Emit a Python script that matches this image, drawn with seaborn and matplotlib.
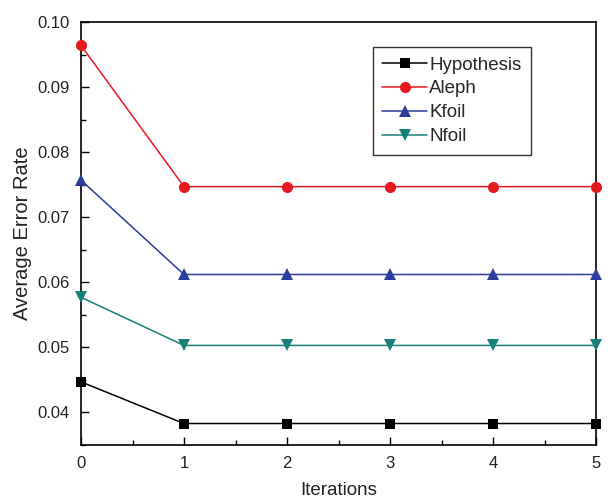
import matplotlib
matplotlib.use("Agg")
import matplotlib.pyplot as plt
import seaborn as sns
import pandas as pd
from matplotlib.ticker import MultipleLocator

iterations = [0, 1, 2, 3, 4, 5]
hypothesis = [0.0447, 0.0383, 0.0383, 0.0383, 0.0383, 0.0383]
aleph = [0.0964, 0.0747, 0.0747, 0.0747, 0.0747, 0.0747]
kfoil = [0.0757, 0.0612, 0.0612, 0.0612, 0.0612, 0.0612]
nfoil = [0.0577, 0.0503, 0.0503, 0.0503, 0.0503, 0.0503]
series_names = ["Hypothesis", "Aleph", "Kfoil", "Nfoil"]
ytick_values = [0.04, 0.05, 0.06, 0.07, 0.08, 0.09, 0.10]
ytick_labels = ["0.04", "0.05", "0.06", "0.07", "0.08", "0.09", "0.10"]

df = pd.DataFrame({"Iterations": iterations * 4,
                   "value": hypothesis + aleph + kfoil + nfoil,
                   "series": sum([[n] * len(iterations) for n in series_names], [])})

sns.set_style("white")
plt.rcParams["font.family"] = ["Liberation Sans", "DejaVu Sans"]

fig = plt.figure(figsize=(6.08, 4.99), dpi=100)
ax = fig.add_axes([81/608, 1 - 445/499, (596-81)/608, (445-22)/499])

colors = {"Hypothesis": "#000000", "Aleph": "#e5191e", "Kfoil": "#2c3e9c", "Nfoil": "#17807a"}
markers = {"Hypothesis": "s", "Aleph": "o", "Kfoil": "^", "Nfoil": "v"}
sizes = {"Hypothesis": 7, "Aleph": 8, "Kfoil": 8, "Nfoil": 8}

for name in series_names:
    sub = df[df["series"] == name]
    sns.lineplot(data=sub, x="Iterations", y="value", ax=ax, color=colors[name],
                 marker=markers[name], markersize=sizes[name], markeredgewidth=0,
                 linewidth=1.1, label=name, clip_on=False, zorder=3)

ax.set_xlim(0, 5)
ax.set_ylim(0.035, 0.10)
ax.xaxis.set_major_locator(MultipleLocator(1))
ax.xaxis.set_minor_locator(MultipleLocator(0.5))
ax.yaxis.set_minor_locator(MultipleLocator(0.005))
ax.set_yticks(ytick_values)
ax.set_yticklabels(ytick_labels)
ax.tick_params(which="major", direction="in", length=6, width=1, labelsize=12,
               colors="black", labelcolor="#222222", pad=8)
ax.tick_params(which="minor", direction="in", length=3.5, width=1, colors="black")
ax.tick_params(top=False, right=False, which="both", bottom=True, left=True)
for s in ax.spines.values():
    s.set_linewidth(1.2)
    s.set_color("black")

ax.set_xlabel("Iterations", fontsize=13.5, color="#222222", labelpad=7.5)
ax.set_ylabel("Average Error Rate", fontsize=14.5, color="#222222", labelpad=4)

leg = ax.legend(loc="upper left", bbox_to_anchor=((373-81)/515, 1 - (47-22)/423),
                fontsize=13.5, frameon=True, fancybox=False, edgecolor="black",
                handlelength=2.4, borderpad=0.5, labelspacing=0.36, handletextpad=0.1,
                borderaxespad=0)
leg.get_frame().set_linewidth(1.0)

fig.savefig("out.png", dpi=100)
